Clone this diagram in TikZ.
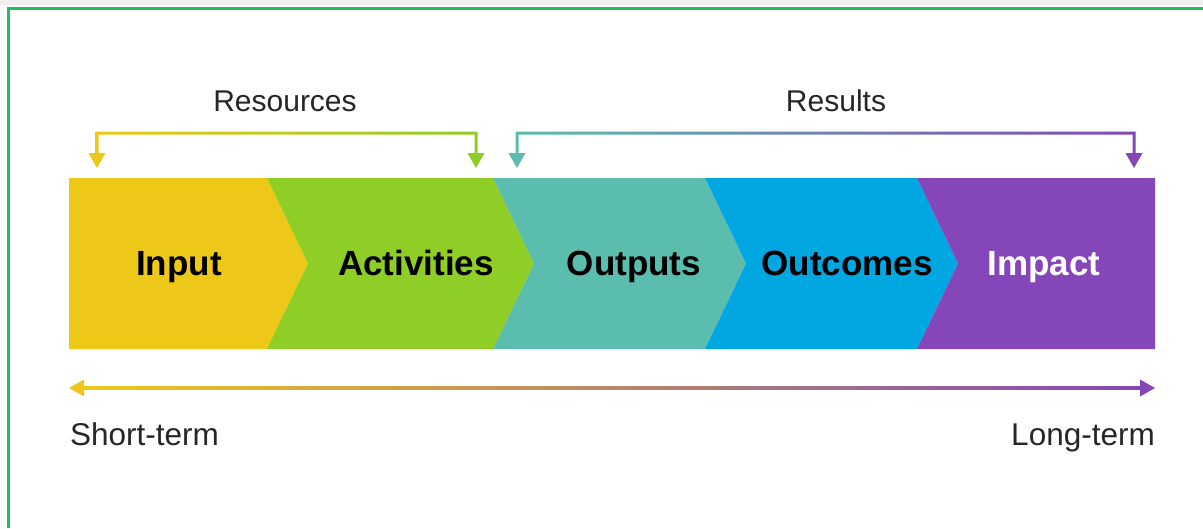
\documentclass[tikz,border=0pt]{standalone}
\usepackage{fontspec}
\setmainfont{Liberation Sans}
\begin{document}
\begin{tikzpicture}[x=1pt,y=-1pt,
  stagelabel/.style={font=\fontsize{35}{40}\selectfont\bfseries, anchor=base, inner sep=0pt},
  toplabel/.style={font=\fontsize{30}{34}\selectfont, anchor=base, inner sep=0pt, text=black!85},
  termlabel/.style={font=\fontsize{31.5}{36}\selectfont, anchor=base, inner sep=0pt, text=black!85}]
\definecolor{cInput}{RGB}{238,200,24}
\definecolor{cAct}{RGB}{142,206,38}
\definecolor{cOutp}{RGB}{91,189,174}
\definecolor{cOutc}{RGB}{0,167,225}
\definecolor{cImp}{RGB}{132,70,184}
\definecolor{frame}{RGB}{30,190,95}
\definecolor{strip}{RGB}{240,240,240}

\useasboundingbox (0,0) rectangle (1203,528);
\fill[white] (0,0) rectangle (1203,528);
% top strip and frame
\fill[strip] (0,0) rectangle (1203,5);
\draw[frame, line width=2.5pt] (8.5,528) -- (8.5,8.5) -- (1203,8.5);

% chevron band
\def\top{178}\def\bot{349}\def\mid{263.5}\def\pt{41}
\fill[cInput] (69,\top) -- (267,\top) -- (267+\pt,\mid) -- (267,\bot) -- (69,\bot) -- cycle;
\fill[cAct] (267,\top) -- (493,\top) -- (493+\pt,\mid) -- (493,\bot) -- (267,\bot) -- (267+\pt,\mid) -- cycle;
\fill[cOutp] (493,\top) -- (705,\top) -- (705+\pt,\mid) -- (705,\bot) -- (493,\bot) -- (493+\pt,\mid) -- cycle;
\fill[cOutc] (705,\top) -- (917,\top) -- (917+\pt,\mid) -- (917,\bot) -- (705,\bot) -- (705+\pt,\mid) -- cycle;
\fill[cImp] (917,\top) -- (1155,\top) -- (1155,\bot) -- (917,\bot) -- (917+\pt,\mid) -- cycle;

\node[stagelabel] (input) at (179,275.5) {Input};
\node[stagelabel] (act) at (416,275.5) {Activities};
\node[stagelabel] (outp) at (634,275.5) {Outputs};
\node[stagelabel] (outc) at (847,275.5) {Outcomes};
\node[stagelabel, text=white] (imp) at (1044,275.5) {Impact};

% resources bracket
\coordinate (rA) at (97,168);
\coordinate (rB) at (476,168);
\shade[left color=cInput, right color=cAct]
  (95.5,131.5) rectangle (477.5,134.5)
  (95.5,131.5) rectangle (98.5,155)
  (474.5,131.5) rectangle (477.5,155);
\fill[cInput] (rA) -- ++(-8.5,-15) -- ++(17,0) -- cycle;
\fill[cAct] (rB) -- ++(-8.5,-15) -- ++(17,0) -- cycle;
\node[toplabel] (res) at (285,111.5) {Resources};

% results bracket
\coordinate (sA) at (517,168);
\coordinate (sB) at (1134,168);
\shade[left color=cOutp, right color=cImp]
  (515.5,131.5) rectangle (1135.5,134.5)
  (515.5,131.5) rectangle (518.5,155)
  (1132.5,131.5) rectangle (1135.5,155);
\fill[cOutp] (sA) -- ++(-8.5,-15) -- ++(17,0) -- cycle;
\fill[cImp] (sB) -- ++(-8.5,-15) -- ++(17,0) -- cycle;
\node[toplabel] (rsl) at (836,111.5) {Results};

% time axis
\coordinate (tL) at (69,388);
\coordinate (tR) at (1155,388);
\shade[left color=cInput, right color=cImp] (82,386.5) rectangle (1142,389.5);
\fill[cInput] (tL) -- ++(15,-8.5) -- ++(0,17) -- cycle;
\fill[cImp] (tR) -- ++(-15,-8.5) -- ++(0,17) -- cycle;
\node[termlabel, anchor=base west] (st) at (70,445) {Short-term};
\node[termlabel, anchor=base east] (lt) at (1155,445) {Long-term};
\end{tikzpicture}
\end{document}
